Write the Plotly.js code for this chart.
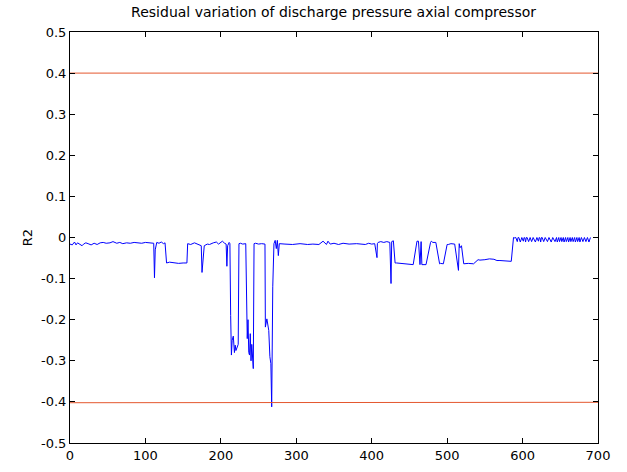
<!DOCTYPE html>
<html>
<head>
<meta charset="utf-8">
<script src="https://cdn.plot.ly/plotly-3.0.1.min.js"></script>
<style>html,body{margin:0;padding:0;background:#fff;}#chart{width:627px;height:472px;}</style>
</head>
<body>
<div id="chart"></div>
<script>
// Residual series (sample index vs R2 residual)
var residX = [0,3,6,8,10,13,16,18,21,24,28,32,36,40,44,48,53,57,62,66,70,75,80,85,90,95,100,105,108,111,112,113,115,118,121,124,126,127,128,132,138,144,150,154,155,156,160,165,170,174,175,176,178,182,185,190,194,197,200,202,205,207,208,209,211,212,213,214,215,216.5,218,219,220,221,223,224,226,229,232,233,235,236,237,238,239,240,241,242,243,244,246,250,254,258.5,259,261,263.5,265,266.3,267.4,268.8,270.4,272,273.5,274.9,276.2,277.5,285,295,305,315,322,330,335.5,340,342,345,350,356,362,370,380,386,391.5,396,400,404,407,407.5,408.5,412,416,420,424,425.6,426.5,428.7,431,433,440,448,450,455,460,462,464,465.5,466.5,467.5,472,478,479,481,485,490,491,495,500,501.5,505,510,515,516,517,519,521,522,528,535,541,543.5,550,556,562,566,570,578,585,588,589,591,593,594,595,597,598,599,601,602,603,604,605,606,608,609,610,612,613,614,617,618,619,621,622,623,624,625,626,628,629,630,633,634,635,638,639,640,643,644,645,646,647,648,649,650,651,652,653,654,655,656,657,658,659,660,661,662,663,664,665,666,667,668,669,670,671,672,673,674,675,676,677,678,680,681,682,684,685,686,688,689,690];
var residY = [-0.016,-0.018,-0.011,-0.018,-0.013,-0.017,-0.020,-0.016,-0.013,-0.015,-0.018,-0.014,-0.017,-0.013,-0.012,-0.014,-0.013,-0.010,-0.014,-0.012,-0.015,-0.013,-0.014,-0.012,-0.013,-0.014,-0.012,-0.013,-0.012,-0.014,-0.098,-0.030,-0.012,-0.014,-0.011,-0.015,-0.013,-0.060,-0.062,-0.060,-0.062,-0.063,-0.062,-0.063,-0.062,-0.015,-0.017,-0.013,-0.016,-0.020,-0.085,-0.060,-0.020,-0.016,-0.017,-0.013,-0.011,-0.016,-0.013,-0.009,-0.014,-0.016,-0.070,-0.020,-0.012,-0.015,-0.190,-0.286,-0.250,-0.240,-0.280,-0.262,-0.275,-0.270,-0.260,-0.015,-0.014,-0.016,-0.015,-0.015,-0.246,-0.200,-0.280,-0.286,-0.234,-0.300,-0.260,-0.300,-0.319,-0.015,-0.014,-0.016,-0.015,-0.016,-0.218,-0.198,-0.226,-0.290,-0.307,-0.412,-0.120,-0.015,-0.007,-0.027,-0.007,-0.044,-0.015,-0.016,-0.017,-0.015,-0.017,-0.016,-0.017,-0.009,-0.017,-0.009,-0.016,-0.014,-0.017,-0.014,-0.016,-0.015,-0.017,-0.017,-0.014,-0.016,-0.015,-0.049,-0.015,-0.012,-0.010,-0.012,-0.010,-0.012,-0.112,-0.010,-0.008,-0.062,-0.062,-0.063,-0.065,-0.066,-0.066,-0.009,-0.009,-0.066,-0.010,-0.066,-0.066,-0.066,-0.012,-0.009,-0.012,-0.012,-0.064,-0.063,-0.064,-0.017,-0.017,-0.015,-0.016,-0.080,-0.015,-0.025,-0.020,-0.062,-0.064,-0.063,-0.064,-0.054,-0.055,-0.054,-0.052,-0.053,-0.056,-0.056,-0.057,-0.058,0.000,-0.001,0.000,-0.010,0.000,0.000,-0.011,0.000,0.000,-0.009,0.000,-0.001,-0.011,0.000,0.000,-0.010,0.000,0.000,-0.010,0.000,0.000,-0.011,0.000,0.000,-0.009,0.000,-0.001,-0.011,0.000,0.000,-0.010,0.000,0.000,-0.010,0.000,0.000,-0.011,0.000,0.000,-0.010,0.000,0.000,-0.011,0.000,0.000,-0.010,0.000,0.000,-0.010,0.000,0.000,-0.011,0.000,0.000,-0.010,0.000,0.000,-0.011,0.000,0.000,-0.010,0.000,0.000,-0.010,0.000,0.000,-0.011,0.000,0.000,-0.010,0.000,0.000,-0.011,0.000,0.000,-0.010,0.000,0.000,-0.010,0.000,0.000,-0.011,0.000,0.000,-0.010,0.000,0.000,-0.010,0.000];
// Threshold limits
var limitX = [0, 700];
var upperLimit = [0.4, 0.4];
var lowerLimit = [-0.402, -0.401];

var xTicks = [0,100,200,300,400,500,600,700];
var yTicks = [-0.5,-0.4,-0.3,-0.2,-0.1,0,0.1,0.2,0.3,0.4,0.5];
var yTickText = ['-0.5','-0.4','-0.3','-0.2','-0.1','0','0.1','0.2','0.3','0.4','0.5'];

var traces = [
  {x: residX, y: residY, type: 'scatter', mode: 'lines', line: {color: '#0000ff', width: 1}, hoverinfo: 'none'},
  {x: limitX, y: upperLimit, type: 'scatter', mode: 'lines', line: {color: '#e4572e', width: 1}, hoverinfo: 'none'},
  {x: limitX, y: lowerLimit, type: 'scatter', mode: 'lines', line: {color: '#e4572e', width: 1}, hoverinfo: 'none'}
];

var fam = 'DejaVu Sans, Liberation Sans, Arial, sans-serif';
var axisCommon = {
  showgrid: false, zeroline: false, showline: true, mirror: 'ticks',
  linecolor: '#000', linewidth: 1, ticks: 'inside', ticklen: 5, tickcolor: '#000',
  tickfont: {family: fam, size: 13, color: '#000'}
};

var layout = {
  width: 627, height: 472,
  margin: {l: 70, r: 29, t: 32, b: 29},
  paper_bgcolor: '#fff', plot_bgcolor: '#fff',
  showlegend: false,
  font: {family: fam, color: '#000'},
  title: {text: 'Residual variation of discharge pressure axial compressor', font: {family: fam, size: 14, color: '#000'}, x: 0.532, xanchor: 'center', y: 0.975, yanchor: 'middle'},
  xaxis: Object.assign({}, axisCommon, {range: [0, 700], tickvals: xTicks, ticktext: xTicks.map(String)}),
  yaxis: Object.assign({}, axisCommon, {range: [-0.5, 0.5], tickvals: yTicks, ticktext: yTickText,
    title: {text: 'R2', font: {family: fam, size: 13, color: '#000'}, standoff: 5}})
};

Plotly.newPlot('chart', traces, layout, {staticPlot: true, displayModeBar: false});
</script>
</body>
</html>
